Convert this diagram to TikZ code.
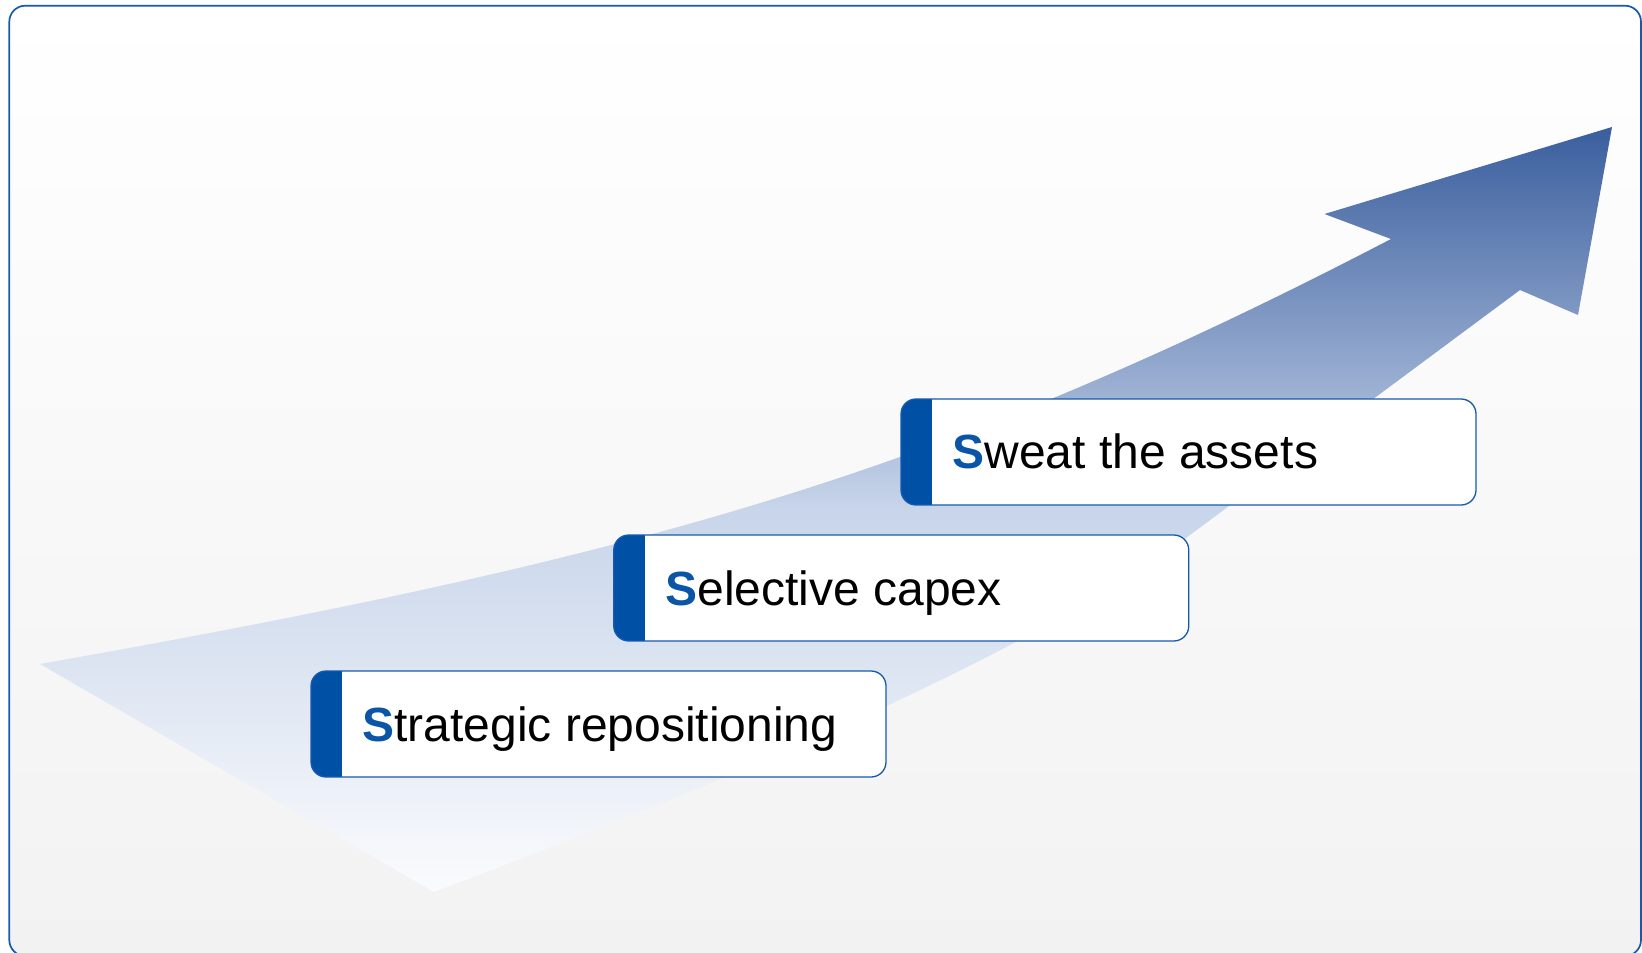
\documentclass[tikz,border=0pt]{standalone}
\usepackage{fontspec}
\setmainfont{Liberation Sans}
\usetikzlibrary{calc}
\definecolor{frameblue}{RGB}{22,90,175}
\definecolor{barblue}{RGB}{0,81,165}
\definecolor{sblue}{RGB}{10,85,168}
\definecolor{bgbot}{RGB}{242,242,242}
\definecolor{atop}{RGB}{58,94,158}
\definecolor{amid}{RGB}{200,213,234}
\definecolor{abot}{RGB}{250,251,253}
\tikzset{
  stepbox/.style={draw=frameblue, line width=1.3pt, fill=white, rounded corners=15pt,
    minimum width=575pt, minimum height=106pt, inner sep=0pt,
    path picture={\fill[barblue, sharp corners] (path picture bounding box.north west) rectangle ([xshift=31pt]path picture bounding box.south west);}},
  steplabel/.style={anchor=base west, inner sep=0pt, font=\fontsize{48}{58}\selectfont, text=black},
}
\newcommand{\bigS}{{\bfseries\color{sblue}S}}
\begin{document}
\begin{tikzpicture}[x=1pt,y=-1pt]
\useasboundingbox (0,0) rectangle (1642,953);
% background and frame
\shade[top color=white, bottom color=bgbot, rounded corners=16pt] (9.3,5.7) rectangle (1641,956);
% arrow
\shade[top color=atop, bottom color=abot, middle color=amid]
  (40,664) .. controls (640,558) and (941,473) .. (1391,239)
  -- (1324.5,214) -- (1612,127) -- (1578,315) -- (1520,290)
  -- (1190,535) .. controls (1010,668.6) and (684,797) .. (434,892) -- cycle;
\draw[frameblue, line width=1.7pt, rounded corners=16pt] (9.3,5.7) rectangle (1641,956);
% boxes
\node[stepbox] (b1) at (1188.5,452) {};
\node[stepbox] (b2) at (901.25,588) {};
\node[stepbox] (b3) at (598.5,724) {};
\node[steplabel] (t1) at ($(b1.north west)+(52,70.5)$) {\bigS weat the assets};
\node[steplabel] (t2) at ($(b2.north west)+(52,71)$) {\bigS elective capex};
\node[steplabel] (t3) at ($(b3.north west)+(52,71)$) {\bigS trategic repositioning};
\end{tikzpicture}
\end{document}
